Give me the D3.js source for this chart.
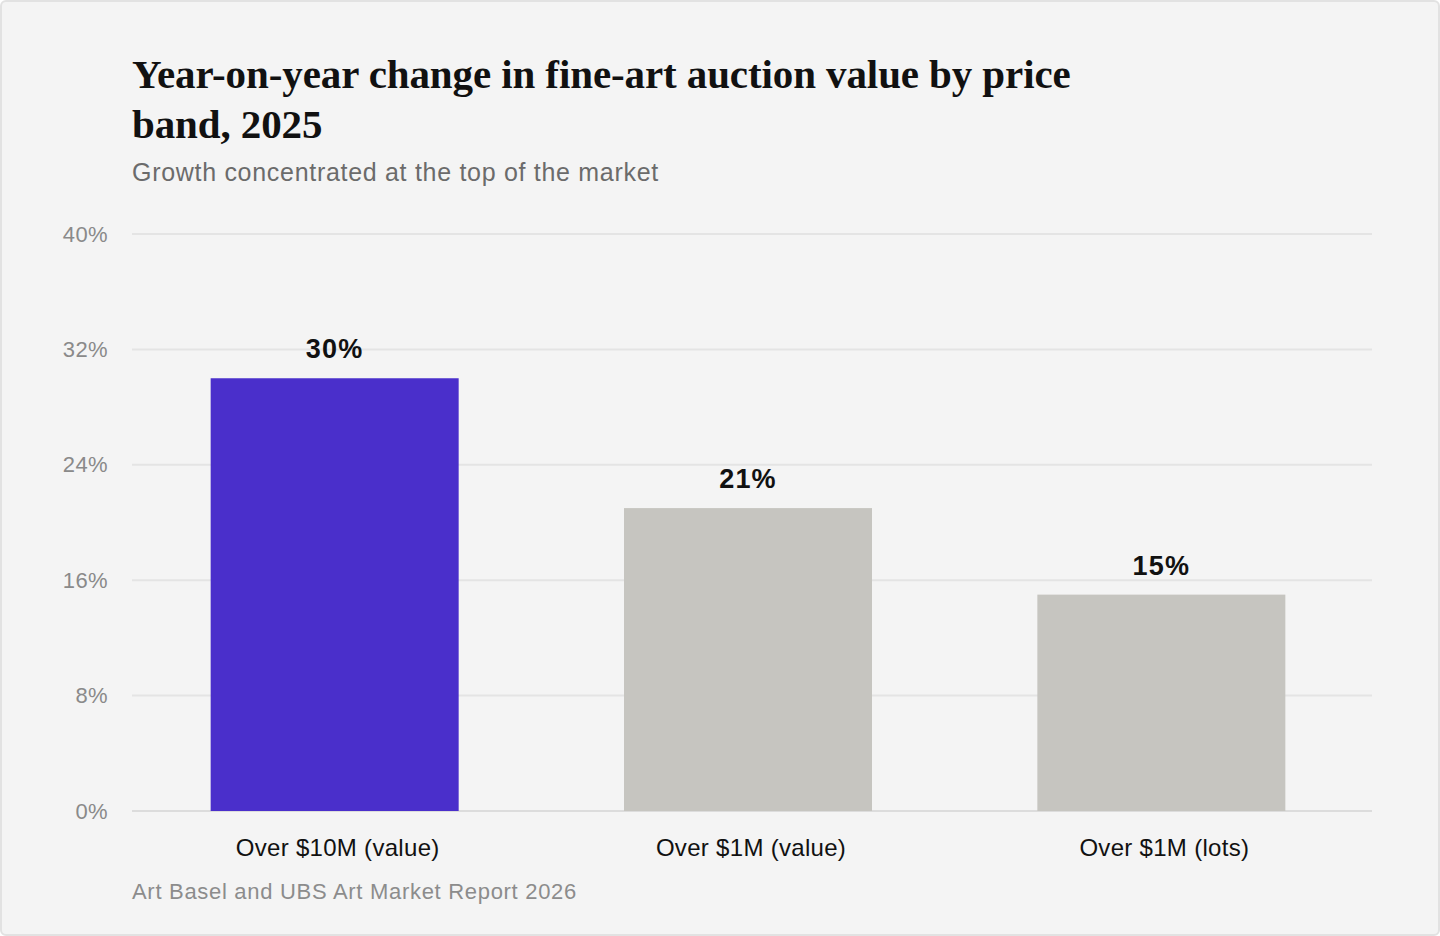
<!DOCTYPE html>
<html>
<head>
<meta charset="utf-8">
<script src="https://cdn.jsdelivr.net/npm/d3@7"></script>
<style>
  body { margin: 0; background: #fff; }
  svg { display: block; }
</style>
</head>
<body>
<script>
var w = 1440;
var h = 936;

var categories = ["Over $10M (value)", "Over $1M (value)", "Over $1M (lots)"];
var values = [30, 21, 15];
var yTicks = [0, 8, 16, 24, 32, 40];

var titleLines = ["Year-on-year change in fine-art auction value by price", "band, 2025"];
var subtitle = "Growth concentrated at the top of the market";
var source = "Art Basel and UBS Art Market Report 2026";

var plotLeft = 132, plotRight = 1372, plotTop = 234, plotBottom = 811;
var sans = "'Liberation Sans', Arial, sans-serif";

var svg = d3.select("body")
    .append("svg")
    .attr("width", w)
    .attr("height", h);

svg.append("rect")
    .attr("x", 1).attr("y", 1)
    .attr("width", w - 2).attr("height", h - 2)
    .attr("rx", 5)
    .attr("fill", "#f4f4f4")
    .attr("stroke", "#e2e2e2")
    .attr("stroke-width", 2);

// title
svg.append("g")
    .selectAll("text")
    .data(titleLines)
    .enter()
    .append("text")
    .attr("x", plotLeft)
    .attr("y", (d, i) => 88 + i * 50)
    .attr("font-family", "'Liberation Serif', 'DejaVu Serif', serif")
    .attr("font-weight", 700)
    .attr("font-size", 41)
    .attr("letter-spacing", -0.1)
    .attr("fill", "#111")
    .text(d => d);

svg.append("text")
    .attr("x", plotLeft)
    .attr("y", 181)
    .attr("font-family", sans)
    .attr("font-size", 25)
    .attr("letter-spacing", 0.7)
    .attr("fill", "#6b6b6b")
    .text(subtitle);

var xScale = d3.scaleBand()
    .domain(categories)
    .range([128, 1368])
    .paddingInner(0.4)
    .paddingOuter(0.2);

var yScale = d3.scaleLinear()
    .domain([0, 40])
    .range([plotBottom, plotTop]);

// grid
svg.append("g")
    .selectAll("line")
    .data(yTicks)
    .enter()
    .append("line")
    .attr("x1", plotLeft)
    .attr("x2", plotRight)
    .attr("y1", d => yScale(d))
    .attr("y2", d => yScale(d))
    .attr("stroke", d => d === 0 ? "#dcdcdc" : "#e4e4e4")
    .attr("stroke-width", 2);

var yAxis = d3.axisLeft(yScale)
    .tickValues(yTicks)
    .tickFormat(d => d + "%")
    .tickSize(0)
    .tickPadding(0);

var yg = svg.append("g")
    .attr("transform", `translate(108,0)`)
    .call(yAxis);
yg.select(".domain").remove();
yg.selectAll("text")
    .attr("font-family", sans)
    .attr("font-size", 22)
    .attr("letter-spacing", 0.4)
    .attr("fill", "#8a8a8a");

// bars
svg.append("g")
    .selectAll("rect")
    .data(values)
    .enter()
    .append("rect")
    .attr("x", (d, i) => xScale(categories[i]))
    .attr("y", d => yScale(d))
    .attr("width", xScale.bandwidth())
    .attr("height", d => yScale(0) - yScale(d))
    .attr("fill", (d, i) => i === 0 ? "#4a2fcb" : "#c6c5c0");

svg.append("g")
    .selectAll("text")
    .data(values)
    .enter()
    .append("text")
    .attr("x", (d, i) => xScale(categories[i]) + xScale.bandwidth() / 2)
    .attr("y", d => yScale(d) - 20)
    .attr("text-anchor", "middle")
    .attr("font-family", sans)
    .attr("font-weight", 700)
    .attr("font-size", 27)
    .attr("letter-spacing", 1.2)
    .attr("fill", "#111")
    .text(d => d + "%");

var xAxis = d3.axisBottom(xScale)
    .tickSize(0)
    .tickPadding(0);

var xg = svg.append("g")
    .attr("transform", `translate(3,${plotBottom + 28})`)
    .call(xAxis);
xg.select(".domain").remove();
xg.selectAll("text")
    .attr("font-family", sans)
    .attr("font-size", 24)
    .attr("letter-spacing", 0.3)
    .attr("fill", "#111");

svg.append("text")
    .attr("x", plotLeft)
    .attr("y", 899)
    .attr("font-family", sans)
    .attr("font-size", 22)
    .attr("letter-spacing", 0.7)
    .attr("fill", "#8c8c8c")
    .text(source);
</script>
</body>
</html>
